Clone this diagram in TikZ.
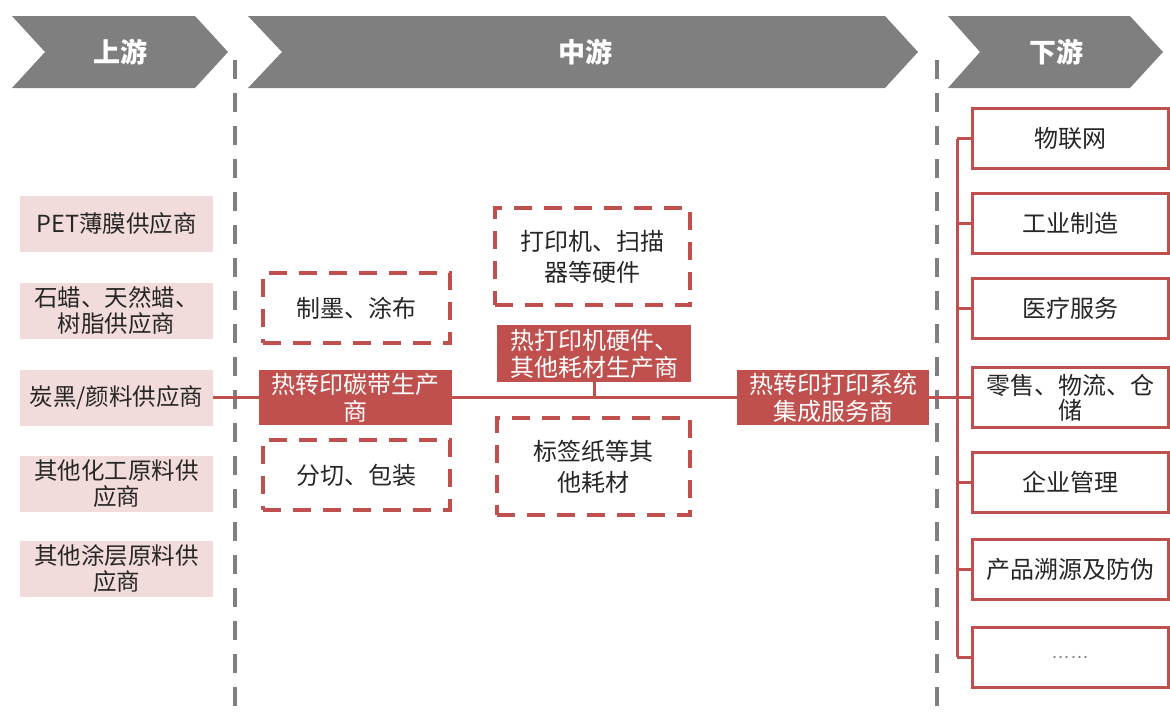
\documentclass[tikz,border=0pt]{standalone}
\usepackage{fontspec}
\setmainfont{Noto Sans CJK SC}
\newfontfamily\latinsans{Liberation Sans}
\definecolor{cred}{HTML}{C0504D}
\definecolor{cpink}{HTML}{F2DCDB}
\definecolor{cgray}{HTML}{7F7F7F}
\definecolor{ctext}{HTML}{262626}
\begin{document}
\begin{tikzpicture}[x=1pt,y=-1pt,
  chev/.style={fill=cgray,draw=none},
  chevtext/.style={text=white,font=\fontsize{27}{30}\selectfont\bfseries},
  divider/.style={draw=cgray,line width=4pt,dash pattern=on 19pt off 14pt},
  srcbox/.style={fill=cpink,draw=none,minimum width=193pt,minimum height=56pt,inner sep=0pt,align=center,text=ctext,font=\fontsize{23.5}{26}\selectfont},
  procbox/.style={draw=cred,line width=3.5pt,dash pattern=on 18pt off 12pt,align=center,inner sep=0pt,text=ctext,font=\fontsize{24}{31}\selectfont},
  redbox/.style={fill=cred,draw=none,inner sep=0pt,align=center,text=white,font=\fontsize{24}{27}\selectfont,minimum height=55pt},
  userbox/.style={draw=cred,line width=3pt,fill=white,minimum width=196pt,minimum height=60pt,inner sep=0pt,align=center,text=ctext,font=\fontsize{24}{25}\selectfont},
  link/.style={draw=cred,line width=3pt}
]
\useasboundingbox (0,0) rectangle (1170,718);
% chevrons
\fill[chev] (12,16) -- (195,16) -- (228,52) -- (195,88) -- (12,88) -- (45,52) -- cycle;
\fill[chev] (248,16) -- (885,16) -- (918,52) -- (885,88) -- (248,88) -- (282,52) -- cycle;
\fill[chev] (948,16) -- (1130,16) -- (1163,52) -- (1130,88) -- (948,88) -- (980,52) -- cycle;
\node[chevtext] (hup) at (120,52) {上游};
\node[chevtext] (hmid) at (585,52) {中游};
\node[chevtext] (hdown) at (1056,52) {下游};
% dividers
\coordinate (d1t) at (235,60);
\coordinate (d1b) at (235,722);
\coordinate (d2t) at (937,60);
\coordinate (d2b) at (937,722);
\draw[divider] (d1t) -- (d1b);
\draw[divider] (d2t) -- (d2b);
% upstream
\node[srcbox] (s1) at (116.5,224) {PET薄膜供应商};
\node[srcbox] (s2) at (116.5,310.5) {石蜡、天然蜡、\\树脂供应商};
\node[srcbox] (s3) at (116.5,397.5) {炭黑/颜料供应商};
\node[srcbox] (s4) at (116.5,483.5) {其他化工原料供\\应商};
\node[srcbox] (s5) at (116.5,569) {其他涂层原料供\\应商};
% midstream
\node[procbox,minimum width=187pt,minimum height=70pt] (p1) at (356.5,308) {制墨、涂布};
\node[redbox,minimum width=193pt] (rib) at (355.5,397.5) {热转印碳带生产\\商};
\node[procbox,minimum width=187pt,minimum height=70pt] (p2) at (356.5,475) {分切、包装};
\node[procbox,minimum width=195pt,minimum height=97pt] (hw) at (592.5,256.5) {打印机、扫描\\器等硬件};
\node[redbox,minimum width=194pt,minimum height=57pt] (hwm) at (594,353.5) {热打印机硬件、\\其他耗材生产商};
\node[procbox,minimum width=193pt,minimum height=97pt] (lab) at (593.5,466.5) {标签纸等其\\他耗材};
\node[redbox,minimum width=192pt] (int) at (833,397.5) {热转印打印系统\\集成服务商};
% downstream
\node[userbox] (u1) at (1070,138.5) {物联网};
\node[userbox] (u2) at (1070,223) {工业制造};
\node[userbox] (u3) at (1070,308.5) {医疗服务};
\node[userbox] (u4) at (1070,397.5) {零售、物流、仓\\储};
\node[userbox] (u5) at (1070,482.5) {企业管理};
\node[userbox] (u6) at (1070,569) {产品溯源及防伪};
\node[userbox,font=\latinsans\fontsize{19}{20}\selectfont,text=cgray] (u7) at (1070,657) {……};
% connectors
\draw[link] (s3.east) -- (rib.west);
\draw[link] (rib.east) -- (int.west);
\draw[link] (hwm.south) -- (hwm.south |- int.west);
\coordinate (bus) at (957,397.5);
\draw[link] (int.east) -- (bus);
\draw[link] (u1.west -| bus) -- (u7.west -| bus);
\foreach \u in {u1,u2,u3,u4,u5,u6,u7} {
  \draw[link] (\u.west -| bus) -- (\u.west);
}
\end{tikzpicture}
\end{document}
